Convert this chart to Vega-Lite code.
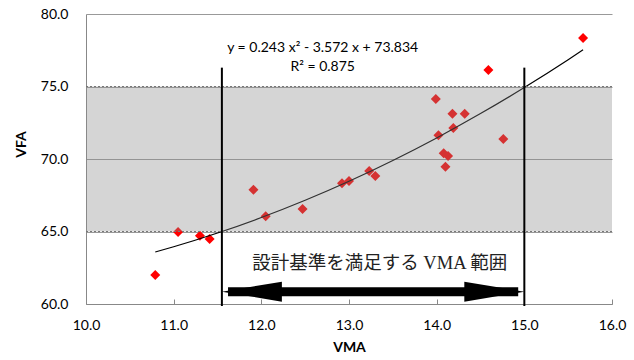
{
  "$schema": "https://vega.github.io/schema/vega-lite/v6.json",
  "width": 526,
  "height": 290,
  "autosize": {"type": "none"},
  "padding": {"left": 86, "top": 14, "right": 22, "bottom": 56},
  "background": "white",
  "config": {
    "view": {"stroke": null},
    "font": "Lato",
    "axis": {"labelFont": "Lato", "titleFont": "Lato", "labelColor": "#000", "titleColor": "#000"}
  },
  "datasets": {
    "obs": [
      {"VMA": 10.79, "VFA": 62.0},
      {"VMA": 11.05, "VFA": 64.97},
      {"VMA": 11.30, "VFA": 64.71},
      {"VMA": 11.41, "VFA": 64.48},
      {"VMA": 11.91, "VFA": 67.88},
      {"VMA": 12.05, "VFA": 66.05},
      {"VMA": 12.47, "VFA": 66.55},
      {"VMA": 12.92, "VFA": 68.33},
      {"VMA": 13.00, "VFA": 68.48},
      {"VMA": 13.23, "VFA": 69.17},
      {"VMA": 13.30, "VFA": 68.83},
      {"VMA": 13.99, "VFA": 74.14},
      {"VMA": 14.02, "VFA": 71.63},
      {"VMA": 14.08, "VFA": 70.39},
      {"VMA": 14.13, "VFA": 70.2},
      {"VMA": 14.10, "VFA": 69.47},
      {"VMA": 14.18, "VFA": 73.12},
      {"VMA": 14.19, "VFA": 72.13},
      {"VMA": 14.32, "VFA": 73.12},
      {"VMA": 14.59, "VFA": 76.14},
      {"VMA": 14.76, "VFA": 71.38},
      {"VMA": 15.67, "VFA": 78.34}
    ],
    "trend": [
      {"VMA": 10.79, "VFA": 63.583},
      {"VMA": 11.0, "VFA": 63.945},
      {"VMA": 11.5, "VFA": 64.893},
      {"VMA": 12.0, "VFA": 65.962},
      {"VMA": 12.5, "VFA": 67.153},
      {"VMA": 13.0, "VFA": 68.465},
      {"VMA": 13.5, "VFA": 69.899},
      {"VMA": 14.0, "VFA": 71.454},
      {"VMA": 14.5, "VFA": 73.131},
      {"VMA": 15.0, "VFA": 74.929},
      {"VMA": 15.5, "VFA": 76.849},
      {"VMA": 15.67, "VFA": 77.529}
    ],
    "band": [{"lo": 65, "hi": 75, "x1": 10, "x2": 16}],
    "edges": [{"VFA": 65}, {"VFA": 75}],
    "limits": [{"VMA": 11.55, "top": 76.3, "bottom": 59.86}, {"VMA": 15.0, "top": 76.3, "bottom": 59.86}],
    "shaft": [{"from": 11.62, "to": 14.93, "y": 60.85}],
    "heads": [{"VMA": 11.55, "y": 60.85, "dir": "left"}, {"VMA": 15.0, "y": 60.85, "dir": "right"}],
    "labels": [
      {"VMA": 13.35, "VFA": 62.83, "text": "設計基準を満足する VMA 範囲"}
    ],
    "eq": [
      {"VMA": 12.70, "VFA": 77.66, "text": "y = 0.243 x² - 3.572 x + 73.834"},
      {"VMA": 12.70, "VFA": 76.34, "text": "R² = 0.875"}
    ]
  },
  "layer": [
    {
      "data": {"name": "obs"},
      "mark": {"type": "point", "shape": "diamond", "filled": true, "color": "#ff0000", "opacity": 1, "size": 100},
      "encoding": {
        "x": {"field": "VMA", "type": "quantitative", "scale": {"domain": [10, 16], "nice": false, "zero": false},
          "axis": {"title": "VMA", "titleFontWeight": "bold", "titleFontSize": 14, "titlePadding": 8,
            "values": [10, 11, 12, 13, 14, 15, 16], "format": ".1f", "labelFontSize": 14,
            "grid": false, "domainColor": "#888", "tickColor": "#888", "tickSize": -5, "labelPadding": 19,
            "labelFlush": false}},
        "y": {"field": "VFA", "type": "quantitative", "scale": {"domain": [60, 80], "nice": false, "zero": false},
          "axis": {"title": "VFA", "titleFontWeight": "bold", "titleFontSize": 14, "titlePadding": 12,
            "titleY": 130,
            "values": [60, 65, 70, 75, 80], "format": ".1f", "labelFontSize": 14,
            "grid": true, "gridColor": "#999", "domainColor": "#888", "ticks": false, "labelPadding": 18}}
      }
    },
    {
      "data": {"name": "trend"},
      "mark": {"type": "line", "color": "#000", "strokeWidth": 1.2, "interpolate": "monotone"},
      "encoding": {
        "x": {"field": "VMA", "type": "quantitative"},
        "y": {"field": "VFA", "type": "quantitative"}
      }
    },
    {
      "data": {"name": "band"},
      "mark": {"type": "rect", "fill": "#8a8a8a", "fillOpacity": 0.36},
      "encoding": {
        "x": {"field": "x1", "type": "quantitative"},
        "x2": {"field": "x2"},
        "y": {"field": "lo", "type": "quantitative"},
        "y2": {"field": "hi"}
      }
    },
    {
      "data": {"name": "edges"},
      "mark": {"type": "rule", "color": "#777", "strokeWidth": 1, "strokeDash": [2, 2]},
      "encoding": {
        "y": {"field": "VFA", "type": "quantitative"}
      }
    },
    {
      "data": {"name": "limits"},
      "mark": {"type": "rule", "color": "#000", "strokeWidth": 2},
      "encoding": {
        "x": {"field": "VMA", "type": "quantitative"},
        "y": {"field": "top", "type": "quantitative"},
        "y2": {"field": "bottom"}
      }
    },
    {
      "data": {"name": "shaft"},
      "mark": {"type": "rule", "color": "#000", "strokeWidth": 9},
      "encoding": {
        "x": {"field": "from", "type": "quantitative"},
        "x2": {"field": "to"},
        "y": {"field": "y", "type": "quantitative"}
      }
    },
    {
      "data": {"name": "heads"},
      "mark": {"type": "point", "filled": true, "color": "#000", "opacity": 1, "size": 3600},
      "encoding": {
        "x": {"field": "VMA", "type": "quantitative"},
        "y": {"field": "y", "type": "quantitative"},
        "shape": {"field": "dir", "type": "nominal", "legend": null,
          "scale": {"domain": ["left", "right"], "range": ["M0,0L2,-0.333L2,0.333Z", "M0,0L-2,-0.333L-2,0.333Z"]}}
      }
    },
    {
      "data": {"name": "labels"},
      "mark": {"type": "text", "font": "Liberation Serif, Noto Sans CJK JP", "fontSize": 18.5, "color": "#222", "align": "center", "baseline": "middle"},
      "encoding": {
        "x": {"field": "VMA", "type": "quantitative"},
        "y": {"field": "VFA", "type": "quantitative"},
        "text": {"field": "text"}
      }
    },
    {
      "data": {"name": "eq"},
      "mark": {"type": "text", "font": "Lato", "fontSize": 14, "color": "#000", "align": "center", "baseline": "middle"},
      "encoding": {
        "x": {"field": "VMA", "type": "quantitative"},
        "y": {"field": "VFA", "type": "quantitative"},
        "text": {"field": "text"}
      }
    }
  ]
}
